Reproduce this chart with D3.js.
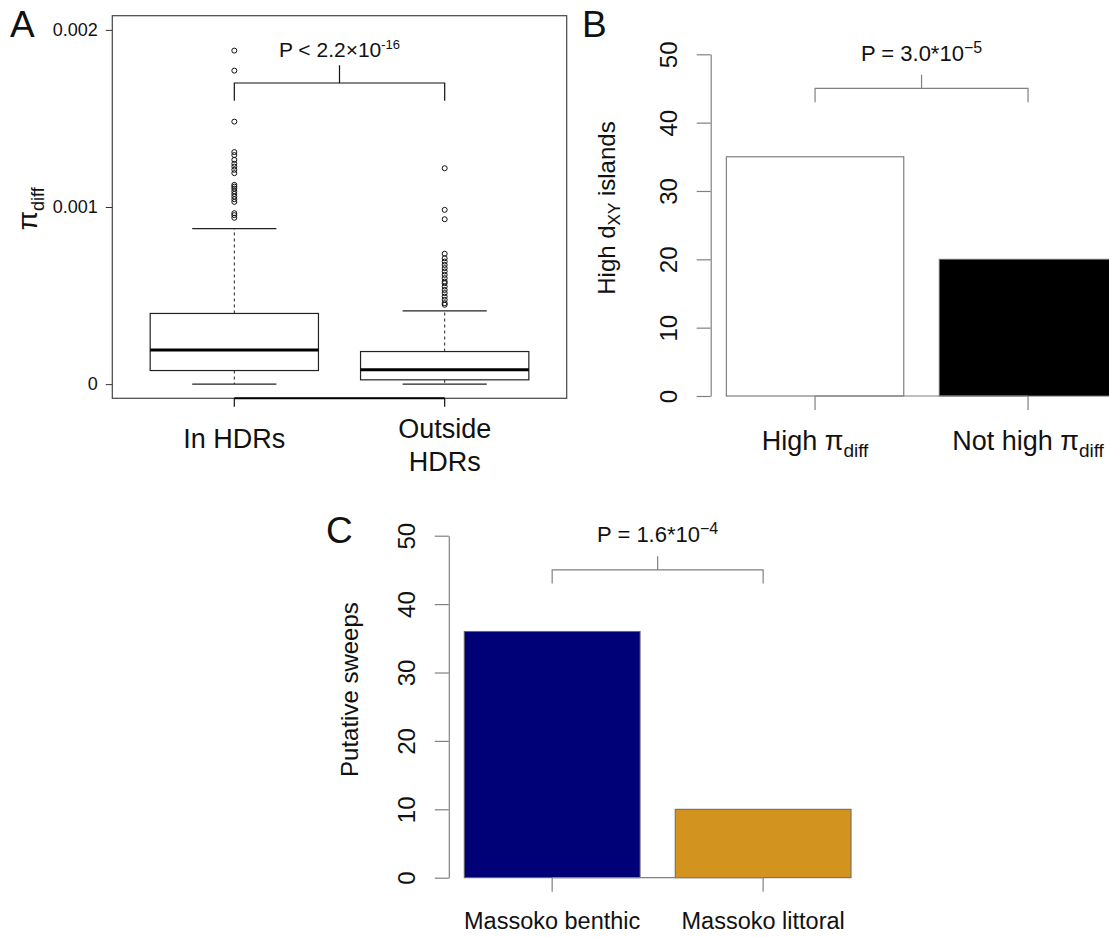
<!DOCTYPE html>
<html>
<head>
<meta charset="utf-8">
<script src="https://cdn.jsdelivr.net/npm/d3@7"></script>
<style>
  body { margin: 0; background: #fff; }
  svg { display: block; }
  text { font-family: "Liberation Sans", Arial, Helvetica, sans-serif; fill: #111; }
</style>
</head>
<body>
<svg id="chart" width="1109" height="937"></svg>
<script>
// ---------------- Panel A data (boxplot of pi_diff) ----------------
const groupsA = [["In HDRs"], ["Outside", "HDRs"]];
const whiskerLowA = [0, 0];
const q1A = [0.0000768, 0.0000243];
const medianA = [0.000192, 0.0000807];
const q3A = [0.000399, 0.000184];
const whiskerHighA = [0.000878, 0.000414];
const outliersInHDRs = [0.001883, 0.001770, 0.001482, 0.001310, 0.001293, 0.001266, 0.001244,
  0.001228, 0.001210, 0.001191, 0.001125, 0.001115, 0.001104, 0.001089, 0.001074, 0.001059,
  0.001044, 0.001029, 0.000965, 0.000954, 0.000939];
const outliersOutsideHDRs = [0.001219, 0.000984, 0.000931, 0.000736, 0.000711, 0.000692, 0.000673,
  0.000655, 0.000636, 0.000617, 0.000598, 0.000579, 0.000570, 0.000551, 0.000532, 0.000514,
  0.000494, 0.000476, 0.000457, 0.000448];
const ticksA = [0, 0.001, 0.002];
const tickLabelsA = ["0", "0.001", "0.002"];
const bracketA = [0.0016, 0.0017, 0.0018];
const pTextA = ["P < 2.2\u00d710", "-16"];

// ---------------- Panel B data ----------------
const categoriesB = ["High", "Not high"];
const valuesB = [35, 20];
const fillsB = ["#ffffff", "#000000"];
const ticksB = [0, 10, 20, 30, 40, 50];
const bracketB = [43, 45, 47];
const pTextB = ["P = 3.0*10", "\u22125"];

// ---------------- Panel C data ----------------
const categoriesC = ["Massoko benthic", "Massoko littoral"];
const valuesC = [36, 10];
const fillsC = ["#000077", "#D2941F"];
const ticksC = [0, 10, 20, 30, 40, 50];
const bracketC = [43, 45, 47];
const pTextC = ["P = 1.6*10", "\u22124"];

const svg = d3.select("#chart");

// =================== PANEL A ===================
const xA = d3.scaleLinear().domain([0.42, 2.58]).range([112.3, 566.7]);
const yA = d3.scaleLinear().domain([-0.00008, 0.00208]).range([398.3, 15.7]);
const gA = svg.append("g");

gA.append("text").attr("x", 10).attr("y", 37).attr("font-size", 37).text("A");

// frame
gA.append("rect")
  .attr("x", xA(0.42)).attr("y", yA(0.00208))
  .attr("width", xA(2.58) - xA(0.42)).attr("height", yA(-0.00008) - yA(0.00208))
  .attr("fill", "none").attr("stroke", "#444").attr("stroke-width", 1.2);

// y axis
const yAxisA = gA.append("g").attr("transform", `translate(${xA(0.42)},0)`)
  .call(d3.axisLeft(yA).tickValues(ticksA).tickFormat((d, i) => tickLabelsA[i]).tickSize(6.5).tickPadding(8));
yAxisA.select(".domain").remove();
yAxisA.selectAll("line").attr("stroke", "#333");
yAxisA.selectAll("text").attr("font-size", 18).attr("fill", "#111")
  .style("font-family", '"Liberation Sans", Arial, sans-serif');

// x axis ticks and line
const positionsA = groupsA.map((d, i) => i + 1);
gA.append("line").attr("x1", xA(1)).attr("x2", xA(2)).attr("y1", yA(-0.00008)).attr("y2", yA(-0.00008))
  .attr("stroke", "#000").attr("stroke-width", 2);
gA.selectAll(".xtickA").data(positionsA).enter().append("line")
  .attr("x1", d => xA(d)).attr("x2", d => xA(d))
  .attr("y1", yA(-0.00008)).attr("y2", yA(-0.00008) + 8.5)
  .attr("stroke", "#111").attr("stroke-width", 1.2);

// x labels
groupsA.forEach((lines, i) => {
  const t = gA.append("text").attr("text-anchor", "middle").attr("font-size", 27);
  if (lines.length === 1) {
    t.append("tspan").attr("x", xA(i + 1)).attr("y", 448.3).text(lines[0]);
  } else {
    lines.forEach((l, j) => {
      t.append("tspan").attr("x", xA(i + 1)).attr("y", 438.3 + j * 32.4).text(l);
    });
  }
});

// y label pi_diff
const yLabA = gA.append("text").attr("text-anchor", "middle")
  .attr("transform", `translate(36.5,${yA(0.00099)}) rotate(-90)`);
yLabA.append("tspan").attr("font-size", 28).text("\u03c0");
yLabA.append("tspan").attr("font-size", 18).attr("dy", 7).text("diff");

// boxes
const halfBox = xA(0.4) - xA(0);
const halfCap = xA(0.2) - xA(0);
positionsA.forEach((p, i) => {
  const cx = xA(p);
  gA.append("line").attr("x1", cx).attr("x2", cx).attr("y1", yA(q3A[i])).attr("y2", yA(whiskerHighA[i]))
    .attr("stroke", "#222").attr("stroke-dasharray", "3,3");
  gA.append("line").attr("x1", cx).attr("x2", cx).attr("y1", yA(q1A[i])).attr("y2", yA(whiskerLowA[i]))
    .attr("stroke", "#222").attr("stroke-dasharray", "3,3");
  [whiskerHighA[i], whiskerLowA[i]].forEach(v => {
    gA.append("line").attr("x1", cx - halfCap).attr("x2", cx + halfCap).attr("y1", yA(v)).attr("y2", yA(v))
      .attr("stroke", "#222").attr("stroke-width", 1.2);
  });
  gA.append("rect").attr("x", cx - halfBox).attr("y", yA(q3A[i]))
    .attr("width", 2 * halfBox).attr("height", yA(q1A[i]) - yA(q3A[i]))
    .attr("fill", "#fff").attr("stroke", "#222").attr("stroke-width", 1.2);
  gA.append("line").attr("x1", cx - halfBox).attr("x2", cx + halfBox)
    .attr("y1", yA(medianA[i])).attr("y2", yA(medianA[i]))
    .attr("stroke", "#000").attr("stroke-width", 3);
});

// outliers
[outliersInHDRs, outliersOutsideHDRs].forEach((arr, i) => {
  gA.selectAll(null).data(arr).enter().append("circle")
    .attr("cx", xA(i + 1)).attr("cy", d => yA(d)).attr("r", 2.5)
    .attr("fill", "none").attr("stroke", "#111").attr("stroke-width", 1);
});

// bracket A
const midA = (xA(1) + xA(2)) / 2;
gA.append("path")
  .attr("d", `M${xA(1)},${yA(bracketA[0])}V${yA(bracketA[1])}H${xA(2)}V${yA(bracketA[0])}M${midA},${yA(bracketA[1])}V${yA(bracketA[2])}`)
  .attr("fill", "none").attr("stroke", "#111").attr("stroke-width", 1.2);
const pA = gA.append("text").attr("text-anchor", "middle").attr("x", midA).attr("y", yA(0.001846));
pA.append("tspan").attr("font-size", 21).text(pTextA[0]);
pA.append("tspan").attr("font-size", 13).attr("dy", -8).text(pTextA[1]);

// =================== Bar panels (B and C) ===================
function barPanel(opts) {
  const g = svg.append("g");
  const u = d3.scaleLinear().domain([0.112, 2.488]).range(opts.xRange);
  const x = d3.scaleBand().domain(opts.categories).range([u(0.1), u(2.5)])
    .paddingInner(1 / 6).paddingOuter(1 / 12);
  const y = d3.scaleLinear().domain([0, 50]).range(opts.yRange);
  const axisCol = "#808080";

  g.append("text").attr("x", opts.letterX).attr("y", opts.letterY).attr("font-size", 37).text(opts.letter);

  g.selectAll(".bar").data(opts.values).enter().append("rect")
    .attr("x", (d, i) => x(opts.categories[i]))
    .attr("y", d => y(d))
    .attr("width", x.bandwidth())
    .attr("height", d => y(0) - y(d))
    .attr("fill", (d, i) => opts.fills[i])
    .attr("stroke", "#666").attr("stroke-width", 1);

  const ya = g.append("g").attr("transform", `translate(${u(0.112)},0)`)
    .call(d3.axisLeft(y).tickValues(opts.ticks).tickSize(14).tickSizeOuter(0));
  ya.select(".domain").attr("stroke", axisCol).attr("stroke-width", 1.2);
  ya.selectAll("line").attr("stroke", axisCol).attr("stroke-width", 1.2);
  ya.selectAll("text")
    .attr("x", null).attr("dy", null)
    .attr("text-anchor", "middle")
    .attr("transform", "translate(-33.4,0) rotate(-90)")
    .attr("font-size", 24).attr("fill", "#111")
    .style("font-family", '"Liberation Sans", Arial, sans-serif');

  const centers = opts.categories.map(c => x(c) + x.bandwidth() / 2);
  g.append("line").attr("x1", centers[0]).attr("x2", centers[1]).attr("y1", y(0)).attr("y2", y(0))
    .attr("stroke", axisCol).attr("stroke-width", 1.2);
  g.selectAll(".xt").data(centers).enter().append("line")
    .attr("x1", d => d).attr("x2", d => d).attr("y1", y(0)).attr("y2", y(0) + 14)
    .attr("stroke", axisCol).attr("stroke-width", 1.2);

  const mid = (centers[0] + centers[1]) / 2;
  g.append("path")
    .attr("d", `M${centers[0]},${y(opts.bracket[0])}V${y(opts.bracket[1])}H${centers[1]}V${y(opts.bracket[0])}M${mid},${y(opts.bracket[1])}V${y(opts.bracket[2])}`)
    .attr("fill", "none").attr("stroke", axisCol).attr("stroke-width", 1.2);
  const pt = g.append("text").attr("text-anchor", "middle").attr("x", mid).attr("y", y(49.06));
  pt.append("tspan").attr("font-size", 22).text(opts.pText[0]);
  pt.append("tspan").attr("font-size", 16).attr("dy", -8).text(opts.pText[1]);

  const yl = g.append("text").attr("text-anchor", "middle")
    .attr("transform", `translate(${opts.yLabX},${y(27.5)}) rotate(-90)`).attr("font-size", 24);
  opts.yLabel(yl);

  opts.categories.forEach((c, i) => {
    const t = g.append("text").attr("text-anchor", "middle").attr("x", centers[i]).attr("y", opts.xLabY);
    opts.xLabel(t, c);
  });
  return g;
}

barPanel({
  letter: "B", letterX: 582, letterY: 37,
  categories: categoriesB, values: valuesB, fills: fillsB, ticks: ticksB,
  bracket: bracketB, pText: pTextB,
  xRange: [710.7, 1132.4], yRange: [396, 54.3],
  yLabX: 614.5, xLabY: 450,
  yLabel: t => {
    t.append("tspan").text("High d");
    t.append("tspan").attr("font-size", 17).attr("dy", 5).text("XY");
    t.append("tspan").attr("dy", -5).text(" islands");
  },
  xLabel: (t, c) => {
    t.attr("font-size", 27);
    t.append("tspan").text(c + " \u03c0");
    t.append("tspan").attr("font-size", 19).attr("dy", 7).text("diff");
  }
});

barPanel({
  letter: "C", letterX: 326, letterY: 542.7,
  categories: categoriesC, values: valuesC, fills: fillsC, ticks: ticksC,
  bracket: bracketC, pText: pTextC,
  xRange: [448.8, 866.5], yRange: [877.7, 535.7],
  yLabX: 358, xLabY: 929.3,
  yLabel: t => { t.text("Putative sweeps"); },
  xLabel: (t, c) => { t.attr("font-size", 23.5).text(c); }
});
</script>
</body>
</html>
